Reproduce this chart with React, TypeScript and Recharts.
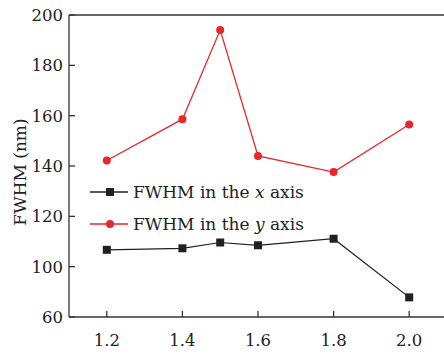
import { LineChart, Line, XAxis, YAxis, Legend, ReferenceLine } from 'recharts'

// sample position (x axis) and measured FWHM values (nm)
const positions = [1.2, 1.4, 1.5, 1.6, 1.8, 2.0]
const fwhmX = [106.7, 107.3, 109.6, 108.5, 111.1, 75.6]
const fwhmY = [142.2, 158.6, 194.0, 144.0, 137.6, 156.5]

const xTicks = [1.2, 1.4, 1.6, 1.8, 2.0]
const yTicks = [60, 100, 120, 140, 160, 180, 200]

const FONT = '"DejaVu Serif", "Liberation Serif", serif'
const AXIS = '#333'
const BLACK = '#231f20'
const RED = '#e8262b'

// y axis is broken below 100: 60..100 squeezed into the space of 80..100
const toAxis = (v: number) => (v >= 100 ? v : 100 - (100 - v) / 2)
const fromAxis = (p: number) => (p >= 100 ? p : 100 - (100 - p) * 2)

const data = positions.map((x, i) => ({
  x,
  fx: toAxis(fwhmX[i]),
  fy: toAxis(fwhmY[i]),
}))

function YTick({ x, y, payload }: any) {
  return (
    <g>
      <line x1={x} x2={x + 6} y1={y} y2={y} stroke={AXIS} strokeWidth={1.3} />
      <text x={x - 6} y={y + 6} textAnchor="end" fontFamily={FONT} fontSize={16.5} fill="#222">
        {Math.round(fromAxis(payload.value))}
      </text>
    </g>
  )
}

function XTick({ x, y, payload }: any) {
  return (
    <g>
      <line x1={x} x2={x} y1={y} y2={y - 6} stroke={AXIS} strokeWidth={1.3} />
      <text x={x} y={y + 29} textAnchor="middle" fontFamily={FONT} fontSize={16.5} fill="#222">
        {payload.value.toFixed(1)}
      </text>
    </g>
  )
}

function SquareDot({ cx, cy }: any) {
  if (cx == null || cy == null) return null
  return <rect x={cx - 4} y={cy - 4} width={8} height={8} fill={BLACK} />
}

function RoundDot({ cx, cy }: any) {
  if (cx == null || cy == null) return null
  return <circle cx={cx} cy={cy} r={4} fill={RED} />
}

function LegendBox() {
  const rows = [
    { color: BLACK, axis: 'x', square: true },
    { color: RED, axis: 'y', square: false },
  ]
  return (
    <svg width={240} height={70}>
      {rows.map((r, i) => {
        const cy = 12 + i * 32
        return (
          <g key={r.axis}>
            <line x1={0} x2={38} y1={cy} y2={cy} stroke={r.color} strokeWidth={1.3} />
            {r.square ? (
              <rect x={16} y={cy - 4} width={8} height={8} fill={r.color} />
            ) : (
              <circle cx={20} cy={cy} r={4} fill={r.color} />
            )}
            <text x={43} y={cy + 6} fontFamily={FONT} fontSize={17} fill="#222">
              FWHM in the <tspan fontStyle="italic">{r.axis}</tspan> axis
            </text>
          </g>
        )
      })}
    </svg>
  )
}

export default function App() {
  return (
    <div style={{ position: 'fixed', left: 0, top: 0, width: 444, height: 354, overflow: 'hidden', background: '#fff' }}>
      <LineChart width={447} height={354} data={data} margin={{ top: 15, right: 0, bottom: 0, left: 9 }}>
        <XAxis
          dataKey="x"
          type="number"
          domain={[1.1, 2.1]}
          ticks={xTicks}
          allowDataOverflow
          height={37}
          tickSize={0}
          tickMargin={0}
          tickLine={false}
          axisLine={{ stroke: AXIS, strokeWidth: 1.3 }}
          tick={<XTick />}
        />
        <YAxis
          type="number"
          domain={[toAxis(60), 200]}
          ticks={yTicks.map(toAxis)}
          allowDataOverflow
          width={60}
          tickSize={0}
          tickMargin={0}
          tickLine={false}
          axisLine={{ stroke: AXIS, strokeWidth: 1.3 }}
          tick={<YTick />}
          label={{
            content: () => (
              <text
                x={20}
                y={172}
                transform="rotate(-90 20 172)"
                textAnchor="middle"
                dominantBaseline="central"
                fontFamily={FONT}
                fontSize={17}
                fill="#222"
              >
                FWHM (nm)
              </text>
            ),
          }}
        />
        <ReferenceLine y={200} stroke={AXIS} strokeWidth={1.3} />
        <Legend
          layout="horizontal"
          verticalAlign="middle"
          align="center"
          content={() => <LegendBox />}
          wrapperStyle={{ left: 90, top: 180, width: 240, height: 70 }}
        />
        <Line
          dataKey="fx"
          name="FWHM in the x axis"
          stroke={BLACK}
          strokeWidth={1.2}
          dot={<SquareDot />}
          activeDot={false}
          isAnimationActive={false}
        />
        <Line
          dataKey="fy"
          name="FWHM in the y axis"
          stroke={RED}
          strokeWidth={1.3}
          dot={<RoundDot />}
          activeDot={false}
          isAnimationActive={false}
        />
      </LineChart>
    </div>
  )
}
